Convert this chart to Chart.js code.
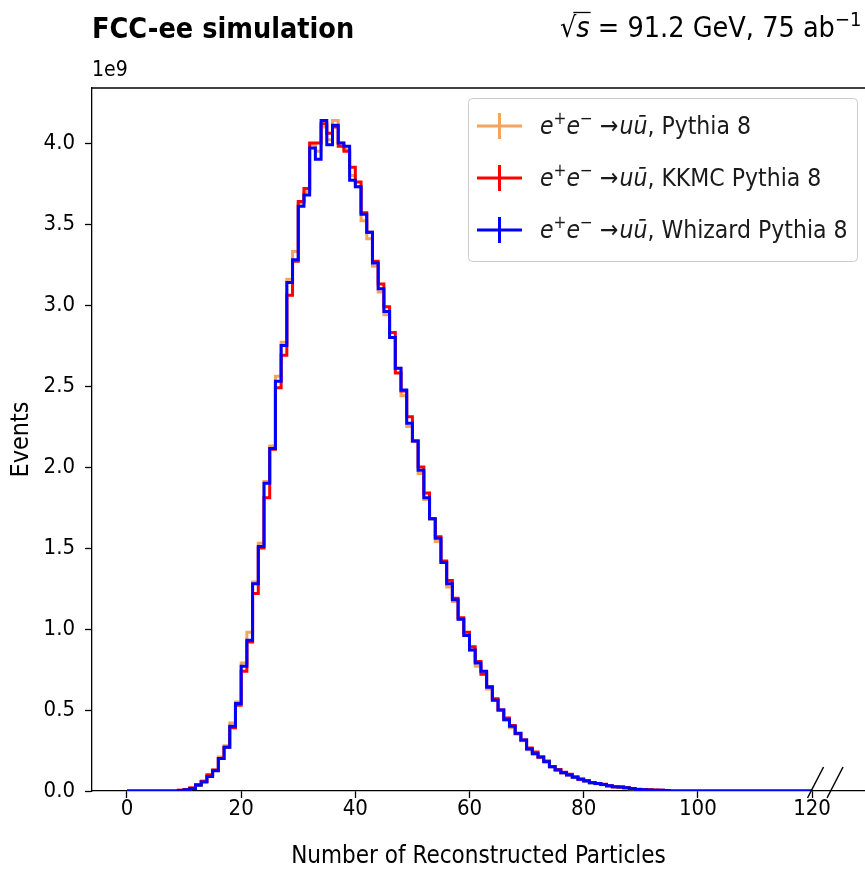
<!DOCTYPE html>
<html><head><meta charset="utf-8">
<script src="https://cdn.jsdelivr.net/npm/chart.js@4.4.0/dist/chart.umd.min.js"></script>
<style>html,body{margin:0;padding:0;background:#fff}#wrap{width:865px;height:869px;position:relative}</style>
</head><body><div id="wrap"><canvas id="c" width="865" height="869"></canvas></div>
<script>
// ---------------- data (bin contents in units of 1e9 events, bins of width 1) ----------------
const binLowEdges = Array.from({length: 120}, (_, i) => i); // bins [0,1), [1,2) ... [119,120)
const binUpperEdge = 120;
const xTickValues = [0, 20, 40, 60, 80, 100, 120];
const yTickValues = [0, 0.5, 1.0, 1.5, 2.0, 2.5, 3.0, 3.5, 4.0];
const yExponentLabel = '1e9';
const generators = ['Pythia 8', 'KKMC Pythia 8', 'Whizard Pythia 8'];

const pythia8 = [
  0,0,0,0,0,0,0,0,0,0.004,
  0.01,0.02,0.035,0.06,0.09,0.13,0.21,0.28,0.42,0.55,
  0.79,0.98,1.29,1.53,1.91,2.13,2.56,2.77,3.16,3.33,
  3.63,3.70,3.99,3.95,4.10,4.02,4.14,4.00,3.96,3.80,
  3.73,3.52,3.41,3.24,3.08,2.94,2.80,2.61,2.44,2.25,
  2.16,1.96,1.80,1.68,1.54,1.41,1.26,1.17,1.06,0.96,
  0.87,0.77,0.73,0.63,0.56,0.50,0.44,0.39,0.35,0.31,
  0.255,0.23,0.205,0.18,0.148,0.128,0.11,0.097,0.083,0.07,
  0.06,0.05,0.044,0.038,0.031,0.025,0.023,0.022,0.014,0.01,
  0.008,0.006,0.005,0.004,0.003,0,0,0,0,0,
  0,0,0,0,0,0,0,0,0,0,
  0,0,0,0,0,0,0,0,0,0
];
const kkmcPythia8 = [
  0,0,0,0,0,0,0,0,0,0.004,
  0.01,0.018,0.04,0.06,0.10,0.13,0.20,0.27,0.39,0.53,
  0.74,0.92,1.22,1.50,1.81,2.11,2.49,2.69,3.06,3.27,
  3.64,3.72,4.00,4.00,4.12,4.06,4.10,3.98,3.95,3.85,
  3.76,3.57,3.45,3.27,3.13,2.99,2.83,2.58,2.47,2.31,
  2.16,2.00,1.84,1.68,1.57,1.42,1.30,1.19,1.07,0.98,
  0.89,0.80,0.72,0.645,0.57,0.50,0.45,0.405,0.355,0.315,
  0.265,0.24,0.21,0.185,0.152,0.132,0.115,0.103,0.088,0.074,
  0.065,0.052,0.047,0.042,0.033,0.027,0.025,0.02,0.016,0.011,
  0.009,0.007,0.006,0.004,0.003,0,0,0,0,0,
  0,0,0,0,0,0,0,0,0,0,
  0,0,0,0,0,0,0,0,0,0
];
const whizardPythia8 = [
  0,0,0,0,0,0,0,0,0,0.003,
  0.008,0.015,0.035,0.055,0.09,0.125,0.20,0.27,0.40,0.54,
  0.77,0.93,1.28,1.51,1.90,2.115,2.53,2.75,3.14,3.28,
  3.61,3.68,3.97,3.90,4.14,3.99,4.11,4.00,3.98,3.77,
  3.73,3.56,3.45,3.26,3.10,2.96,2.80,2.61,2.475,2.27,
  2.16,1.98,1.81,1.68,1.56,1.41,1.28,1.18,1.06,0.96,
  0.87,0.79,0.74,0.64,0.56,0.50,0.44,0.40,0.356,0.315,
  0.26,0.23,0.21,0.18,0.15,0.13,0.113,0.099,0.085,0.072,
  0.062,0.051,0.046,0.04,0.032,0.026,0.024,0.02,0.015,0.01,
  0.008,0.006,0.005,0.004,0.003,0,0,0,0,0,
  0,0,0,0,0,0,0,0,0,0,
  0,0,0,0,0,0,0,0,0,0
];
const seriesColors = ['#f4a460', '#ff0000', '#0000ff'];

// ---------------- helpers ----------------
const FONT = "'DejaVu Sans Condensed','DejaVu Sans',sans-serif";
function stepPoints(values) {
  const pts = binLowEdges.map((x, i) => ({x: x, y: values[i]}));
  pts.push({x: binUpperEdge, y: values[values.length - 1]});
  return pts;
}
function drawRich(ctx, x, y, parts, size) {
  for (const p of parts) {
    const s = p.sup ? size * 0.7 : size;
    ctx.font = (p.it ? 'italic ' : '') + (p.bold ? 'bold ' : '') + s + 'px ' + FONT;
    const dy = p.sup ? -size * 0.4 : 0;
    ctx.fillText(p.t, x, y + dy);
    const w = ctx.measureText(p.t).width;
    if (p.over) {
      ctx.save(); ctx.lineWidth = 1.3; ctx.strokeStyle = ctx.fillStyle;
      ctx.beginPath(); ctx.moveTo(x - 3, y - size * 0.86); ctx.lineTo(x + w + 1, y - size * 0.86); ctx.stroke();
      ctx.restore();
    }
    x += w + (p.gap || 0);
  }
  return x;
}
function processParts(gen) {
  return [
    {t: 'e', it: true}, {t: '+', sup: true}, {t: 'e', it: true}, {t: '\u2212', sup: true},
    {t: ' \u2192', gap: 1}, {t: 'u\u016B', it: true}, {t: ', ' + gen}
  ];
}

const decorations = {
  id: 'decorations',
  afterDraw(chart) {
    const ctx = chart.ctx, a = chart.chartArea, xs = chart.scales.x;
    ctx.save();
    ctx.fillStyle = '#000'; ctx.strokeStyle = '#000';
    // top spine
    ctx.lineWidth = 1.3;
    ctx.beginPath(); ctx.moveTo(a.left, a.top); ctx.lineTo(a.right, a.top); ctx.stroke();
    // axis break marks after the last bin edge
    const bx = xs.getPixelForValue(binUpperEdge);
    ctx.lineWidth = 1.5;
    [3.5, 23].forEach(off => {
      ctx.beginPath();
      ctx.moveTo(bx + off - 8, a.bottom + 7);
      ctx.lineTo(bx + off + 8, a.bottom - 24);
      ctx.stroke();
    });
    // titles
    ctx.textBaseline = 'alphabetic'; ctx.textAlign = 'left';
    drawRich(ctx, a.left, 38, [{t: 'FCC-ee simulation', bold: true}], 28.5);
    drawRich(ctx, 560, 37, [
      {t: '\u221A'}, {t: 's', it: true, over: true}, {t: ' = 91.2 GeV, 75 ab'}, {t: '\u22121', sup: true}
    ], 28.5);
    drawRich(ctx, a.left, 76, [{t: yExponentLabel}], 21);
    // legend
    const lx = 468.5, ly = 98.5, lw = 389, lh = 163;
    ctx.beginPath();
    ctx.roundRect(lx, ly, lw, lh, 4);
    ctx.fillStyle = 'rgba(255,255,255,0.8)'; ctx.fill();
    ctx.strokeStyle = '#cccccc'; ctx.lineWidth = 1; ctx.stroke();
    generators.forEach((g, i) => {
      const cy = 126 + i * 52;
      ctx.strokeStyle = seriesColors[i]; ctx.lineWidth = 3;
      ctx.beginPath(); ctx.moveTo(477, cy); ctx.lineTo(522, cy); ctx.stroke();
      ctx.beginPath(); ctx.moveTo(499.5, cy - 13); ctx.lineTo(499.5, cy + 13); ctx.stroke();
      ctx.fillStyle = '#1a1a1a';
      drawRich(ctx, 540, cy + 8, processParts(g), 24.5);
    });
    ctx.restore();
  }
};

const datasets = [
  {label: 'e+e- \u2192 u\u016B, ' + generators[2], data: stepPoints(whizardPythia8), borderColor: seriesColors[2], order: 0},
  {label: 'e+e- \u2192 u\u016B, ' + generators[1], data: stepPoints(kkmcPythia8), borderColor: seriesColors[1], order: 1},
  {label: 'e+e- \u2192 u\u016B, ' + generators[0], data: stepPoints(pythia8), borderColor: seriesColors[0], order: 2}
].map(d => Object.assign(d, {stepped: 'before', borderWidth: 3, pointRadius: 0, fill: false, tension: 0}));

new Chart(document.getElementById('c'), {
  type: 'line',
  data: {datasets},
  options: {
    responsive: false, animation: false, events: [],
    layout: {padding: {top: 88, left: 0, right: 0, bottom: 0}},
    plugins: {legend: {display: false}, tooltip: {enabled: false}, title: {display: false}},
    scales: {
      x: {
        type: 'linear', min: -6.13, max: 129.28,
        afterBuildTicks: s => { s.ticks = xTickValues.map(v => ({value: v})); },
        afterFit: s => { s.height = 78; },
        ticks: {font: {family: FONT, size: 22, lineHeight: 1}, color: '#000', padding: 0, maxRotation: 0, autoSkip: false, callback: v => String(v)},
        grid: {drawOnChartArea: false, drawTicks: true, tickLength: 7, tickWidth: 1.3, color: '#000'},
        border: {display: true, color: '#000', width: 1.3},
        title: {display: true, text: 'Number of Reconstructed Particles', color: '#000', font: {family: FONT, size: 24, lineHeight: 1}, padding: {top: 0, bottom: 0}}
      },
      y: {
        min: 0, max: 4.34,
        afterBuildTicks: s => { s.ticks = yTickValues.map(v => ({value: v})); },
        afterFit: s => { s.width = 92; },
        ticks: {font: {family: FONT, size: 22, lineHeight: 1}, color: '#000', padding: 10, autoSkip: false, callback: v => v.toFixed(1)},
        grid: {drawOnChartArea: false, drawTicks: true, tickLength: 7, tickWidth: 1.3, color: '#000'},
        border: {display: true, color: '#000', width: 1.3},
        title: {display: true, text: 'Events', color: '#000', font: {family: FONT, size: 25, lineHeight: 1}, padding: {top: 9, bottom: 0}}
      }
    }
  },
  plugins: [decorations]
});
</script>
</body></html>
